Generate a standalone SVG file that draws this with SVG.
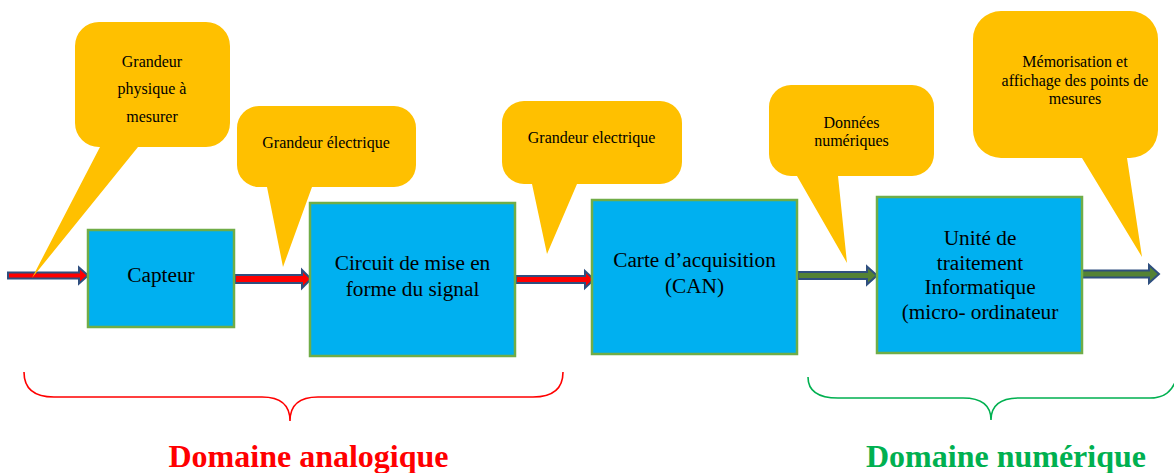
<svg xmlns="http://www.w3.org/2000/svg" width="1174" height="473" viewBox="0 0 1174 473">
  <style>
    .box { fill: #00B0F0; stroke: #70AD47; stroke-width: 2.5; }
    .box-text { font-family: "Liberation Serif", "Times New Roman", serif; font-size: 21.3px; fill: #000; text-anchor: middle; }
    .bubble { fill: #FFC000; stroke: none; }
    .bubble-text { font-family: "Liberation Serif", "Times New Roman", serif; font-size: 16px; fill: #000; text-anchor: middle; }
    .arrow { stroke: #2F4F7F; stroke-width: 2; stroke-linejoin: miter; }
    .analog { fill: #FF0000; }
    .digital { fill: #548235; }
    .brace { fill: none; stroke-width: 1.6; }
    .domain { font-family: "Liberation Serif", "Times New Roman", serif; font-size: 32px; font-weight: bold; text-anchor: middle; }
  </style>

  <!-- block arrows between stages -->
  <g id="connectors">
    <path class="arrow analog" d="M8,272.5 H79 V267.5 L88,275.5 L79,283.5 V278.5 H8 Z"/>
    <path class="arrow analog" d="M235,275 H302 V270 L311,279 L302,288 V283 H235 Z"/>
    <path class="arrow analog" d="M516,276 H585 V271 L594,279.5 L585,288 V283 H516 Z"/>
    <path class="arrow digital" d="M798,272 H867 V266.5 L877,275.5 L867,284.5 V279 H798 Z"/>
    <path class="arrow digital" d="M1081,270.5 H1149 V265 L1159,274 L1149,283 V277.5 H1081 Z"/>
  </g>

  <!-- processing stages -->
  <g id="capteur">
    <rect class="box" x="88" y="230" width="146" height="97"/>
    <text class="box-text" x="161" y="282">Capteur</text>
  </g>
  <g id="circuit-mise-en-forme">
    <rect class="box" x="310" y="203" width="205" height="153"/>
    <text class="box-text" x="412.5" y="270">Circuit de mise en</text>
    <text class="box-text" x="412.5" y="296">forme du signal</text>
  </g>
  <g id="carte-acquisition">
    <rect class="box" x="592" y="200" width="205" height="154"/>
    <text class="box-text" x="694.5" y="267">Carte d’acquisition</text>
    <text class="box-text" x="694.5" y="293">(CAN)</text>
  </g>
  <g id="unite-traitement">
    <rect class="box" x="877" y="197" width="205" height="156"/>
    <text class="box-text" x="980" y="245">Unité de</text>
    <text class="box-text" x="980" y="269.5">traitement</text>
    <text class="box-text" x="980" y="294">Informatique</text>
    <text class="box-text" x="980" y="318.5">(micro- ordinateur</text>
  </g>

  <!-- speech-bubble annotations -->
  <g id="bulle-grandeur-physique">
    <path class="bubble" d="M99,22 H206 A24,24 0 0 1 230,46 V123 A24,24 0 0 1 206,147 H138 L32,278 L100,147 H99 A24,24 0 0 1 75,123 V46 A24,24 0 0 1 99,22 Z"/>
    <text class="bubble-text" x="152" y="67">Grandeur</text>
    <text class="bubble-text" x="152" y="94">physique à</text>
    <text class="bubble-text" x="152" y="122">mesurer</text>
  </g>
  <g id="bulle-grandeur-electrique-1">
    <path class="bubble" d="M259,106 H394 A22,22 0 0 1 416,128 V165 A22,22 0 0 1 394,187 H312 L283,267 L267,187 H259 A22,22 0 0 1 237,165 V128 A22,22 0 0 1 259,106 Z"/>
    <text class="bubble-text" x="326" y="148">Grandeur électrique</text>
  </g>
  <g id="bulle-grandeur-electrique-2">
    <path class="bubble" d="M524,101 H660 A22,22 0 0 1 682,123 V162 A22,22 0 0 1 660,184 H577 L547,254 L532,184 H524 A22,22 0 0 1 502,162 V123 A22,22 0 0 1 524,101 Z"/>
    <text class="bubble-text" x="591.5" y="143">Grandeur electrique</text>
  </g>
  <g id="bulle-donnees-numeriques">
    <path class="bubble" d="M791,85 H912 A22,22 0 0 1 934,107 V154 A22,22 0 0 1 912,176 H838 L847,263 L797,176 H791 A22,22 0 0 1 769,154 V107 A22,22 0 0 1 791,85 Z"/>
    <text class="bubble-text" x="851.5" y="128">Données</text>
    <text class="bubble-text" x="851.5" y="146">numériques</text>
  </g>
  <g id="bulle-memorisation">
    <path class="bubble" d="M1001,11 H1130 A28,28 0 0 1 1158,39 V130 A28,28 0 0 1 1130,158 H1127 L1142,257 L1082,158 H1001 A28,28 0 0 1 973,130 V39 A28,28 0 0 1 1001,11 Z"/>
    <text class="bubble-text" x="1075" y="67">Mémorisation et</text>
    <text class="bubble-text" x="1075" y="86">affichage des points de</text>
    <text class="bubble-text" x="1075" y="104">mesures</text>
  </g>

  <!-- domain braces and labels -->
  <g id="domaine-analogique">
    <path class="brace" stroke="#FF0000" d="M24,372 C24,389 34,397 54,397 L262,397 C280,397 290,405 290,421 C290,405 300,397 318,397 L533,397 C553,397 563,389 563,372"/>
    <text class="domain" x="308.5" y="467" fill="#FF0000">Domaine analogique</text>
  </g>
  <g id="domaine-numerique">
    <path class="brace" stroke="#00B050" d="M808,377 C808,391 818,398 838,398 L963,398 C981,398 991,405 991,420 C991,405 1001,398 1019,398 L1150,398 C1165,398 1172,391 1176,380"/>
    <text class="domain" x="1006" y="467" fill="#00B050">Domaine numérique</text>
  </g>
</svg>
